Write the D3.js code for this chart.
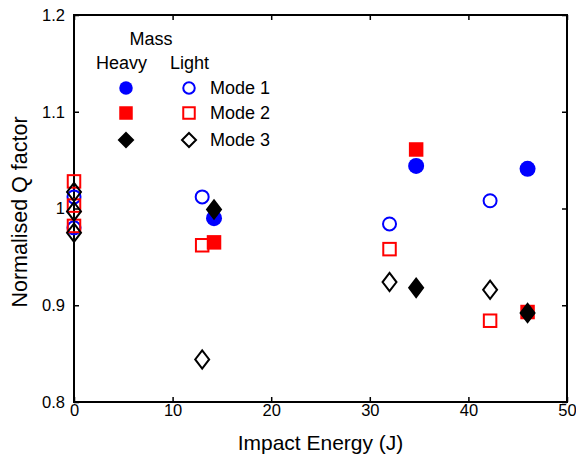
<!DOCTYPE html>
<html>
<head>
<meta charset="utf-8">
<script src="https://cdn.jsdelivr.net/npm/d3@7"></script>
<style>
  body { margin: 0; background: #fff; }
  text { font-family: "Liberation Sans", Arial, sans-serif; }
</style>
</head>
<body>
<svg width="576" height="456"></svg>
<script>
// values
const modes = ["Mode 1", "Mode 2", "Mode 3"];
const colors = ["#0000ff", "#ff0000", "#000000"];
const symbols = ["circle", "square", "diamond"];

// reference points at 0 J (open markers)
const zeroMode1 = [1.012, 0.980];
const zeroMode2 = [1.028, 1.003, 0.982];
const zeroMode3 = [1.017, 0.997, 0.975];

// light mass impacts
const lightEnergy = [13.0, 32.0, 42.2];
const lightMode1 = [1.012, 0.984, 1.008];
const lightMode2 = [0.962, 0.958, 0.884];
const lightMode3 = [0.844, 0.924, 0.916];

// heavy mass impacts
const heavyEnergy = [14.2, 34.7, 46.0];
const heavyMode1 = [0.990, 1.044, 1.041];
const heavyMode2 = [0.965, 1.061, 0.893];
const heavyMode3 = [0.999, 0.918, 0.892];

const xTicks = [0, 10, 20, 30, 40, 50];
const yTicks = [0.8, 0.9, 1.0, 1.1, 1.2];

const svg = d3.select("svg");
const plotLeft = 74, plotRight = 567, plotTop = 15, plotBottom = 402;

const x = d3.scaleLinear().domain([0, 50]).range([plotLeft, plotRight]);
const y = d3.scaleLinear().domain([0.8, 1.2]).range([plotBottom, plotTop]);

// axes with inward ticks on all four sides
svg.append("g")
    .attr("transform", `translate(0,${plotBottom})`)
    .call(d3.axisBottom(x).tickValues(xTicks).tickSizeInner(-5).tickSizeOuter(0).tickPadding(2))
    .call(g => g.selectAll("text").style("font-size", "16.5px").attr("fill", "#000"));

svg.append("g")
    .attr("transform", `translate(${plotLeft},0)`)
    .call(d3.axisLeft(y).tickValues(yTicks).tickSizeInner(-5).tickSizeOuter(0).tickPadding(9)
        .tickFormat(d => d === 1 ? "1" : d3.format(".1f")(d)))
    .call(g => g.selectAll("text").style("font-size", "16.5px").attr("fill", "#000"));

svg.append("g")
    .attr("transform", `translate(0,${plotTop})`)
    .call(d3.axisTop(x).tickValues(xTicks).tickSizeInner(-5).tickSizeOuter(0).tickFormat(""));

svg.append("g")
    .attr("transform", `translate(${plotRight},0)`)
    .call(d3.axisRight(y).tickValues(yTicks).tickSizeInner(-5).tickSizeOuter(0).tickFormat(""));

svg.selectAll(".domain").remove();
svg.selectAll(".tick line").attr("stroke", "#000").attr("stroke-width", 1.5);

svg.append("rect")
    .attr("x", plotLeft).attr("y", plotTop)
    .attr("width", plotRight - plotLeft).attr("height", plotBottom - plotTop)
    .attr("fill", "none").attr("stroke", "#000").attr("stroke-width", 2);

// axis titles
svg.append("text")
    .attr("x", (plotLeft + plotRight) / 2).attr("y", 450)
    .attr("text-anchor", "middle")
    .style("font-size", "21px")
    .text("Impact Energy (J)");

svg.append("text")
    .attr("transform", "translate(27,212) rotate(-90)")
    .attr("text-anchor", "middle")
    .style("font-size", "21.5px")
    .text("Normalised Q factor");

// marker drawing
function drawMarker(g, type, cx, cy, size, color, filled, tall) {
    const sw = 2;
    if (type === "circle") {
        const r = filled ? size / 2 : size / 2 - sw / 2;
        g.append("circle").attr("cx", cx).attr("cy", cy).attr("r", r)
            .attr("fill", filled ? color : "none").attr("stroke", filled ? "none" : color)
            .attr("stroke-width", sw);
    } else if (type === "square") {
        const s = filled ? size : size - sw;
        g.append("rect").attr("x", cx - s / 2).attr("y", cy - s / 2)
            .attr("width", s).attr("height", s)
            .attr("fill", filled ? color : "none").attr("stroke", filled ? "none" : color)
            .attr("stroke-width", sw);
    } else {
        const w = (tall ? size * 1.1 : size) / 2 - 1, h = (tall ? size * 1.4 : size) / 2 - 1;
        g.append("path")
            .attr("d", `M${cx},${cy - h}L${cx + w},${cy}L${cx},${cy + h}L${cx - w},${cy}Z`)
            .attr("fill", filled ? color : "none").attr("stroke", color)
            .attr("stroke-width", sw).attr("stroke-linejoin", "miter");
    }
}

const marks = svg.append("g");
const zeroSets = [zeroMode1, zeroMode2, zeroMode3];
const lightSets = [lightMode1, lightMode2, lightMode3];
const heavySets = [heavyMode1, heavyMode2, heavyMode3];

zeroSets.forEach((vals, i) => {
    vals.forEach(v => drawMarker(marks, symbols[i], x(0), y(v), i === 0 ? 15 : 14.5, colors[i], false, true));
});
lightSets.forEach((vals, i) => {
    vals.forEach((v, j) => drawMarker(marks, symbols[i], x(lightEnergy[j]), y(v), i === 0 ? 15 : 14.5, colors[i], false, true));
});
heavySets.forEach((vals, i) => {
    vals.forEach((v, j) => drawMarker(marks, symbols[i], x(heavyEnergy[j]), y(v), i === 0 ? 16 : 14.5, colors[i], true, true));
});

// legend
const legend = svg.append("g");
legend.append("text").attr("x", 151).attr("y", 45).attr("text-anchor", "middle")
    .style("font-size", "18px").text("Mass");
legend.append("text").attr("x", 96).attr("y", 69).style("font-size", "18px").text("Heavy");
legend.append("text").attr("x", 170).attr("y", 69).style("font-size", "18px").text("Light");

const rowY = [88, 113, 140];
modes.forEach((m, i) => {
    drawMarker(legend, symbols[i], 126, rowY[i], i === 2 ? 16 : 13.5, colors[i], true, false);
    drawMarker(legend, symbols[i], 189, rowY[i], i === 2 ? 16 : 13.5, colors[i], false, false);
    legend.append("text").attr("x", 210).attr("y", rowY[i] + 6)
        .style("font-size", "18px").text(m);
});
</script>
</body>
</html>
